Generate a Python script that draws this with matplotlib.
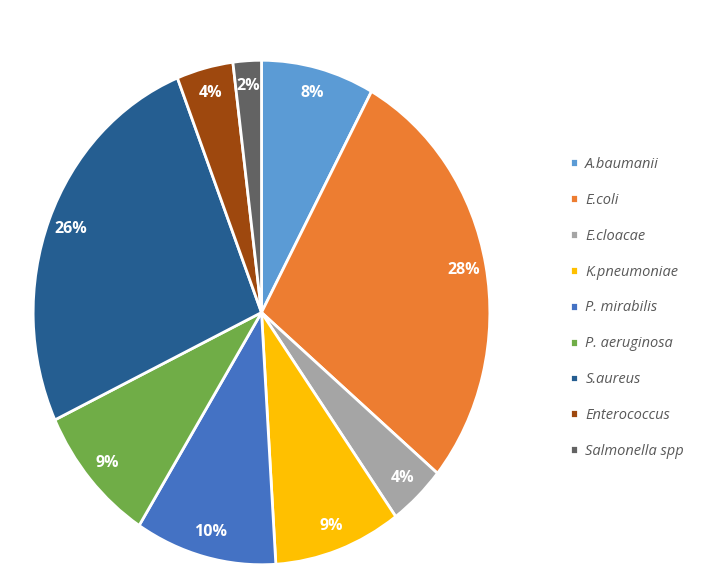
import matplotlib.pyplot as plt

# Bacterial isolates (%)
especes = ["A.baumanii", "E.coli", "E.cloacae", "K.pneumoniae", "P. mirabilis",
           "P. aeruginosa", "S.aureus", "Enterococcus", "Salmonella spp"]
pourcentages = [8, 28, 4, 9, 10, 9, 26, 4, 2]
couleurs = ["#5B9BD5", "#ED7D31", "#A5A5A5", "#FFC000", "#4472C4",
            "#70AD47", "#255E91", "#9E480E", "#636363"]

fig = plt.figure(figsize=(7.1, 5.85), dpi=100)
# pie is slightly taller than wide in the reference
ax = fig.add_axes([32 / 710, 19 / 585, 459 / 710, 507 / 585])

wedges, textes = ax.pie(pourcentages, colors=couleurs, startangle=90, counterclock=False,
                        labels=[f"{p}%" for p in pourcentages], labeldistance=0.9,
                        wedgeprops=dict(edgecolor="white", linewidth=2),
                        textprops=dict(color="white", fontsize=11.5, fontweight="bold",
                                       family="Open Sans"))
for t in textes:
    t.set_ha("center")
    t.set_va("center")
ax.set_aspect("auto")
ax.set_xlim(-1.005, 1.005)
ax.set_ylim(-1.005, 1.005)

leg = fig.legend(wedges, especes, loc="upper left", bbox_to_anchor=(570 / 710, 1 - 157 / 585),
                 frameon=False, borderpad=0, borderaxespad=0,
                 handlelength=0.55, handleheight=0.55, handletextpad=0.5,
                 labelspacing=1.43, prop=dict(family="Open Sans", style="italic", size=10.5))
for t in leg.get_texts():
    t.set_color("#595959")

fig.savefig("out.png", dpi=100)
